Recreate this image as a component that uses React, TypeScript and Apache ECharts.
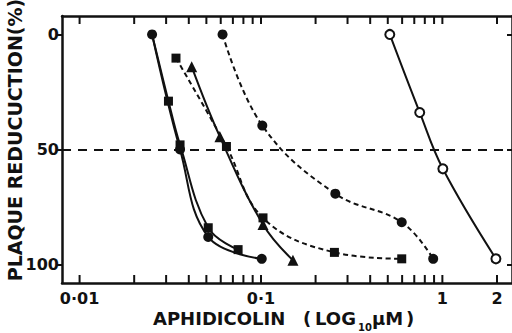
import React, { useEffect, useRef } from "react";
import * as echarts from "echarts";

// ---- data ----
const xTickValues = [
  0.01, 0.02, 0.03, 0.04, 0.05, 0.06, 0.07, 0.08, 0.09,
  0.1, 0.2, 0.3, 0.4, 0.5, 0.6, 0.7, 0.8, 0.9,
  1, 2,
];
const xLabelValues = [0.01, 0.1, 1, 2];
const xLabelTexts = ["0·01", "0·1", "1", "2"];
const yTickValues = [0, 50, 100];
const yRefLine = 50;

// solid, filled circles
const circA_x = [0.0251, 0.0358, 0.0512, 0.101];
const circA_y = [0, 50, 88, 97.5];
// solid, filled squares (starts under the first circle)
const sqA_x = [0.0251, 0.0309, 0.0358, 0.0512, 0.0748];
const sqA_y = [0, 29, 48, 84, 93.5];
// solid, filled triangles
const tri_x = [0.0415, 0.0594, 0.1026, 0.15];
const tri_y = [14, 44.5, 82.6, 98.1];
// dashed, filled circles
const circB_x = [0.0614, 0.1017, 0.257, 0.597, 0.89];
const circB_y = [0, 39.6, 69.2, 81.6, 97.5];
// dashed, filled squares
const sqB_x = [0.034, 0.0645, 0.1026, 0.254, 0.597];
const sqB_y = [10.3, 48.7, 79.7, 94.7, 97.5];
// solid, open circles
const open_x = [0.513, 0.75, 1.006, 1.973];
const open_y = [0, 33.9, 58.4, 97.5];

const X_MIN = 0.008;
const X_MAX = 2.42;
const Y_MIN = -8;
const Y_MAX = 108;

const BLACK = "#111";
const FONT = '"DejaVu Sans"';
const SHORT_DASH = [5, 3.5];

function pts(xs: number[], ys: number[]) {
  return xs.map((x, i) => [x, ys[i]]);
}

export default function App() {
  const ref = useRef<HTMLDivElement>(null);

  useEffect(() => {
    if (!ref.current) return;
    const chart = echarts.init(ref.current, undefined, { renderer: "svg" });

    const lineBase = (dashed: boolean) => ({
      type: "line",
      smooth: 0.4,
      xAxisIndex: 0,
      yAxisIndex: 0,
      lineStyle: { color: BLACK, width: 2, type: dashed ? SHORT_DASH : "solid" },
      itemStyle: { color: BLACK },
      emphasis: { disabled: true },
      z: 5,
    });

    const xAxisBase = (position: string) => ({
      type: "log",
      logBase: 10,
      min: X_MIN,
      max: X_MAX,
      position,
      axisLine: { show: true, onZero: false, lineStyle: { color: BLACK, width: 2.5 } },
      axisTick: { show: false },
      axisLabel: { show: false },
      splitLine: { show: false },
    });

    const option: any = {
      animation: false,
      backgroundColor: "#fff",
      grid: { left: 62, top: 16, width: 452, height: 267, containLabel: false },
      xAxis: [xAxisBase("bottom"), xAxisBase("top")],
      yAxis: [
        {
          type: "value",
          inverse: true,
          min: Y_MIN,
          max: Y_MAX,
          position: "left",
          axisLine: { show: true, onZero: false, lineStyle: { color: BLACK, width: 2.5 } },
          axisTick: {
            show: true,
            inside: false,
            length: 5,
            customValues: yTickValues,
            lineStyle: { color: BLACK, width: 2 },
          },
          axisLabel: {
            show: true,
            customValues: yTickValues,
            margin: 3,
            color: BLACK,
            fontFamily: FONT,
            fontWeight: "bold",
            fontSize: 16,
          },
          splitLine: { show: false },
        },
        {
          type: "value",
          inverse: true,
          min: Y_MIN,
          max: Y_MAX,
          position: "right",
          axisLine: { show: true, onZero: false, lineStyle: { color: BLACK, width: 2.5 } },
          axisTick: {
            show: true,
            inside: true,
            length: 5,
            customValues: yTickValues,
            lineStyle: { color: BLACK, width: 2 },
          },
          axisLabel: { show: false },
          splitLine: { show: false },
        },
      ],
      series: [
        {
          ...lineBase(false),
          name: "circA",
          data: pts(circA_x, circA_y),
          symbol: "circle",
          symbolSize: 10,
          z: 6,
          markLine: {
            silent: true,
            symbol: ["none", "none"],
            label: { show: false },
            lineStyle: { color: BLACK, width: 2, type: [9, 7] },
            data: [{ yAxis: yRefLine }],
          },
        },
        {
          ...lineBase(false),
          name: "sqA",
          data: pts(sqA_x, sqA_y).map((p, i) =>
            i === 0 ? { value: p, symbolSize: 0 } : { value: p }
          ),
          symbol: "rect",
          symbolSize: 9,
        },
        {
          ...lineBase(false),
          name: "tri",
          data: pts(tri_x, tri_y),
          symbol: "triangle",
          symbolSize: 11,
        },
        {
          ...lineBase(true),
          name: "circB",
          data: pts(circB_x, circB_y),
          symbol: "circle",
          symbolSize: 10,
        },
        {
          ...lineBase(true),
          name: "sqB",
          data: pts(sqB_x, sqB_y),
          symbol: "rect",
          symbolSize: 9,
        },
        {
          ...lineBase(false),
          name: "open",
          data: pts(open_x, open_y),
          symbol: "circle",
          symbolSize: 9,
          itemStyle: { color: "#fff", borderColor: BLACK, borderWidth: 2 },
        },
        {
          type: "custom",
          name: "xticks",
          silent: true,
          xAxisIndex: 0,
          yAxisIndex: 0,
          data: xTickValues.map((v) => [v, 0]),
          encode: { x: 0, y: 1 },
          renderItem: (params: any, api: any) => {
            const cs = params.coordSys;
            const x = api.coord([api.value(0), 0])[0];
            const b = cs.y + cs.height;
            const t = cs.y;
            return {
              type: "group",
              children: [
                { type: "line", shape: { x1: x, y1: b, x2: x, y2: b - 8 }, style: { stroke: BLACK, lineWidth: 2 } },
                { type: "line", shape: { x1: x, y1: t, x2: x, y2: t + 8 }, style: { stroke: BLACK, lineWidth: 2 } },
              ],
            };
          },
        },
        {
          type: "custom",
          name: "xlabels",
          silent: true,
          xAxisIndex: 0,
          yAxisIndex: 0,
          data: xLabelValues.map((v) => [v, 0]),
          encode: { x: 0, y: 1 },
          renderItem: (params: any, api: any) => {
            const cs = params.coordSys;
            const x = api.coord([api.value(0), 0])[0];
            return {
              type: "text",
              x,
              y: cs.y + cs.height + 15,
              style: {
                text: xLabelTexts[params.dataIndex],
                fill: BLACK,
                font: `bold 16px ${FONT}`,
                align: "center",
                verticalAlign: "middle",
              },
            };
          },
        },
      ],
      graphic: [
        {
          type: "text",
          x: 15,
          y: 140,
          rotation: Math.PI / 2,
          style: {
            text: "PLAQUE REDUCUCTION(%)",
            fill: BLACK,
            font: `bold 19px ${FONT}`,
            align: "center",
            verticalAlign: "middle",
          },
        },
        {
          type: "text",
          x: 153,
          y: 318,
          style: { text: "APHIDICOLIN", fill: BLACK, font: `bold 18px ${FONT}`, align: "left", verticalAlign: "middle" },
        },
        {
          type: "text",
          x: 303,
          y: 318,
          style: { text: "(", fill: BLACK, font: `bold 18px ${FONT}`, align: "left", verticalAlign: "middle" },
        },
        {
          type: "text",
          x: 315,
          y: 318,
          style: { text: "LOG", fill: BLACK, font: `bold 18px ${FONT}`, align: "left", verticalAlign: "middle" },
        },
        {
          type: "text",
          x: 358,
          y: 327,
          style: { text: "10", fill: BLACK, font: `bold 10px ${FONT}`, align: "left", verticalAlign: "middle" },
        },
        {
          type: "text",
          x: 372,
          y: 318,
          style: { text: "µM", fill: BLACK, font: `bold 18px ${FONT}`, align: "left", verticalAlign: "middle" },
        },
        {
          type: "text",
          x: 406,
          y: 318,
          style: { text: ")", fill: BLACK, font: `bold 18px ${FONT}`, align: "left", verticalAlign: "middle" },
        },
      ],
    };

    chart.setOption(option);
    return () => chart.dispose();
  }, []);

  return <div ref={ref} style={{ width: 512, height: 333, position: "absolute", left: 0, top: 0 }} />;
}
